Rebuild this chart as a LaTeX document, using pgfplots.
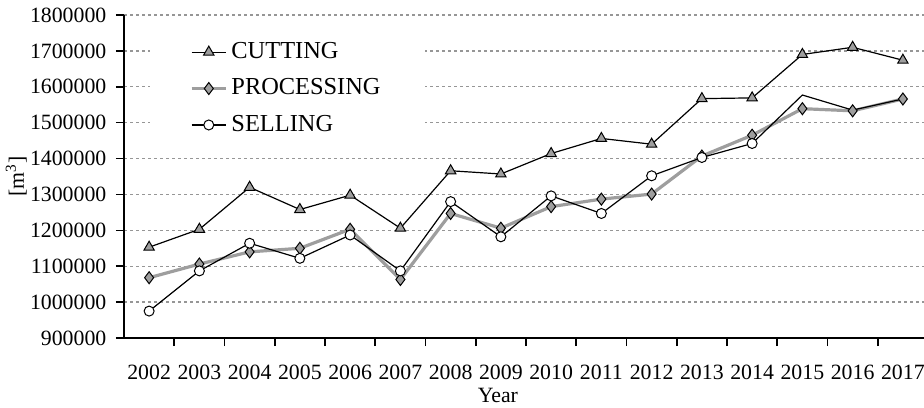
\documentclass[border=0pt]{standalone}
\usepackage{fontspec}
\setmainfont{Liberation Serif}
\usepackage{pgfplots}
\usepackage{pgfplotstable}
\pgfplotsset{compat=1.18}

\definecolor{markgray}{RGB}{158,158,158}
\definecolor{linegray}{RGB}{158,158,158}
\definecolor{gridgray}{RGB}{150,150,150}

% Annual volumes in m^3, years 2002--2017 at x = 0..15
\pgfplotstableread{
x y
0 1153000
1 1203000
2 1320000
3 1258000
4 1298000
5 1206000
6 1366000
7 1357000
8 1414000
9 1456000
10 1440000
11 1567000
12 1569000
13 1690000
14 1710000
15 1674000
}\cutting

\pgfplotstableread{
x y
0 1068000
1 1106000
2 1140000
3 1150000
4 1203000
5 1063000
6 1247000
7 1206000
8 1266000
9 1287000
10 1301000
11 1407000
12 1465000
13 1539000
14 1533000
15 1566000
}\processing

\pgfplotstableread{
x y
0 975000
1 1087000
2 1164000
3 1122000
4 1187000
5 1087000
6 1280000
7 1182000
8 1296000
9 1247000
10 1352000
11 1403000
12 1442000
13 1577000
14 1535000
15 1566000
}\selling

\begin{document}
\fontsize{10.9}{13}\selectfont
\begin{tikzpicture}
\useasboundingbox (-62pt,-34.5pt) rectangle (400pt,169pt);
\begin{axis}[
  scale only axis,
  width=402pt, height=161.5pt,
  xmin=-0.5, xmax=15.5,
  ymin=900000, ymax=1800000,
  axis x line*=bottom, axis y line*=left,
  axis line style={-, line width=0.8pt, black},
  xtick={0,...,15},
  xticklabels={2002,2003,2004,2005,2006,2007,2008,2009,2010,2011,2012,2013,2014,2015,2016,2017},
  major x tick style={draw=none},
  minor xtick={0.5,1.5,...,14.5},
  ytick={900000,1000000,...,1800000},
  tick align=outside,
  tick style={black, line width=0.8pt},
  major tick length=4pt, minor tick length=4pt,
  ymajorgrids,
  major grid style={gridgray, line width=0.7pt, dash pattern=on 1.4pt off 1.6pt},
  scaled y ticks=false,
  /pgf/number format/assume math mode=true,
  yticklabel style={/pgf/number format/fixed, /pgf/number format/1000 sep={}, anchor=east, xshift=-1pt},
  xticklabel style={anchor=base, yshift=-16.5pt},
  ylabel={[m\textsuperscript{3}]},
  ylabel style={at={(axis description cs:-0.134,0.5)}, anchor=center},
  xlabel={Year},
  xlabel style={at={(axis description cs:0.465,-0.177)}, anchor=center},
  legend cell align=left,
  legend style={at={(0.032,0.969)}, anchor=north west, draw=none, fill=white,
    inner xsep=20pt, inner ysep=6.5pt, row sep=4.5pt,
    font=\fontsize{12.2}{14}\selectfont},
]
\addplot[black, line width=0.6pt, mark=triangle*, mark size=3pt,
  mark options={fill=markgray, draw=black, line width=0.5pt, solid}] table {\cutting};
\addlegendentry{CUTTING}
\addplot[linegray, line width=1.6pt, mark=diamond*, mark size=3pt,
  mark options={fill=markgray, draw=black, line width=0.5pt, solid}] table {\processing};
\addlegendentry{PROCESSING}
% selling: line over all years, circles up to 2014
\addplot[black, line width=0.6pt, forget plot] table {\selling};
\addplot[only marks, mark=*, mark size=2.5pt, restrict x to domain=0:12,
  mark options={fill=white, draw=black, line width=0.5pt}, forget plot] table {\selling};
\addlegendimage{black, line width=0.6pt, mark=*, mark size=2.5pt,
  mark options={fill=white, draw=black, line width=0.5pt}}
\addlegendentry{SELLING}
\end{axis}
\end{tikzpicture}
\end{document}
